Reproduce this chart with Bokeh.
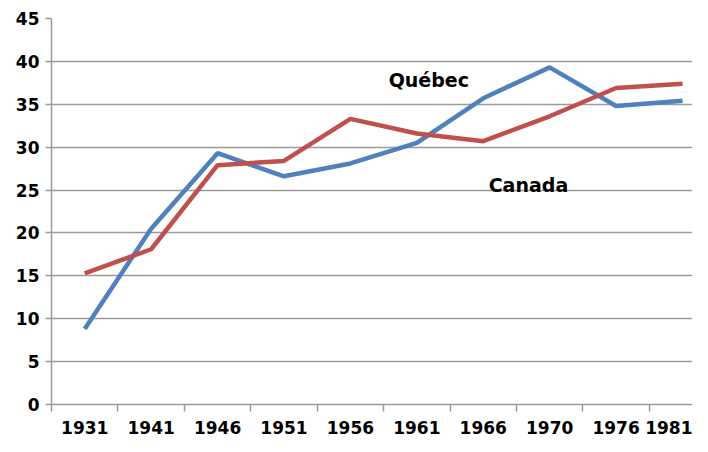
import numpy as np
from bokeh.plotting import figure
from bokeh.models import Range1d, FixedTicker, SingleIntervalTicker, Label, ColumnDataSource
from bokeh.embed import file_html
from bokeh.resources import INLINE

years = ["1931", "1941", "1946", "1951", "1956", "1961", "1966", "1970", "1976", "1981"]
quebec = [8.8, 20.5, 29.3, 26.6, 28.1, 30.5, 35.7, 39.3, 34.8, 35.4]
canada = [15.3, 18.1, 27.9, 28.4, 33.3, 31.6, 30.7, 33.6, 36.9, 37.4]

FONT = "DejaVu Sans"
GRID = "#9a9a9a"

xpos = np.arange(len(years)) + 0.5
src = ColumnDataSource(dict(x=xpos, quebec=quebec, canada=canada, year=years))

p = figure(width=692, height=436, output_backend="svg", toolbar_location=None,
           x_range=Range1d(0, 9.65), y_range=Range1d(0, 45),
           min_border_left=51, min_border_right=0, min_border_top=18, min_border_bottom=32)
p.outline_line_color = None
p.background_fill_color = "white"
p.border_fill_color = "white"

p.line("x", "quebec", source=src, line_color="#4F81BD", line_width=4.5)
p.line("x", "canada", source=src, line_color="#C0504D", line_width=4.5)

# x axis: labels centred in categories, ticks at category boundaries
p.xaxis.ticker = FixedTicker(ticks=list(xpos), minor_ticks=list(np.arange(len(years) + 1)))
p.xaxis.major_label_overrides = {float(x): y for x, y in zip(xpos, years)}
p.xaxis.major_tick_out = 0
p.xaxis.major_tick_in = 0
p.xaxis.minor_tick_out = 7
p.xaxis.minor_tick_in = 0
p.xaxis.minor_tick_line_color = GRID
p.xaxis.minor_tick_line_width = 1.5
p.xaxis.axis_line_color = GRID
p.xaxis.axis_line_width = 1.5
p.xaxis.major_label_standoff = 9
p.xaxis.major_label_text_font = FONT
p.xaxis.major_label_text_font_style = "bold"
p.xaxis.major_label_text_font_size = "17px"
p.xaxis.major_label_text_color = "black"

# y axis
p.yaxis.ticker = SingleIntervalTicker(interval=5)
p.yaxis.minor_tick_line_color = None
p.yaxis.major_tick_out = 6
p.yaxis.major_tick_in = 0
p.yaxis.major_tick_line_color = GRID
p.yaxis.major_tick_line_width = 1.5
p.yaxis.axis_line_color = GRID
p.yaxis.axis_line_width = 1.5
p.yaxis.major_label_standoff = 6
p.yaxis.major_label_text_font = FONT
p.yaxis.major_label_text_font_style = "bold"
p.yaxis.major_label_text_font_size = "17px"
p.yaxis.major_label_text_color = "black"

p.xgrid.grid_line_color = None
p.ygrid.ticker = SingleIntervalTicker(interval=5)
p.ygrid.grid_line_color = GRID
p.ygrid.grid_line_width = 1.5

p.add_layout(Label(x=5.68, y=37.8, text="Québec", text_align="center", text_baseline="middle",
                   text_font=FONT, text_font_style="bold", text_font_size="19px", text_color="black"))
p.add_layout(Label(x=7.18, y=25.6, text="Canada", text_align="center", text_baseline="middle",
                   text_font=FONT, text_font_style="bold", text_font_size="19px", text_color="black"))

open("out.html", "w").write(file_html(p, INLINE))
